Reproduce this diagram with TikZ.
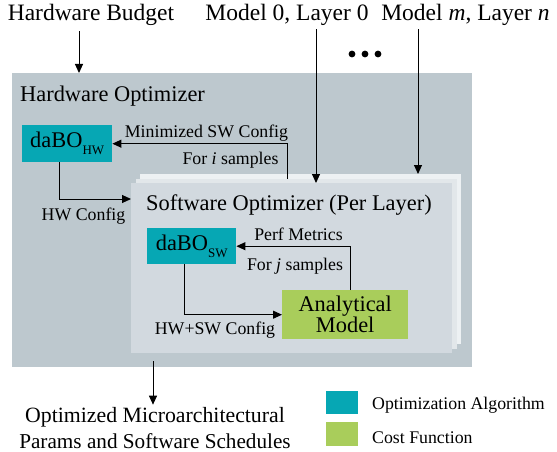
\documentclass[tikz,border=0pt]{standalone}
\usepackage{fontspec}
\setmainfont{Liberation Serif}
\usetikzlibrary{arrows.meta}
\definecolor{hwgray}{HTML}{BDC8CE}
\definecolor{swfront}{HTML}{D2D9DF}
\definecolor{swmid}{HTML}{E2E7EA}
\definecolor{swback}{HTML}{EDF1F3}
\definecolor{teal}{HTML}{06A7B4}
\definecolor{lgreen}{HTML}{A9CD5B}
\tikzset{
  top/.style={inner sep=0pt, font=\fontsize{23.5}{28}\selectfont, anchor=base},
  big/.style={inner sep=0pt, font=\fontsize{22.4}{26}\selectfont},
  lab/.style={inner sep=0pt, font=\fontsize{17.8}{21}\selectfont, anchor=base},
  leg/.style={inner sep=0pt, font=\fontsize{17.8}{20}\selectfont, anchor=base west},
  panel/.style={draw=none, inner sep=0pt, anchor=north west},
  algo/.style={panel, fill=teal, font=\fontsize{22.4}{26}\selectfont},
  cost/.style={panel, fill=lgreen, font=\fontsize{22.4}{24}\selectfont, align=center},
  arr/.style={draw=black, line width=1pt, -{Triangle[length=9pt,width=8pt]}},
}
\newcommand{\subtxt}[1]{\raisebox{-7pt}{\fontsize{13}{13}\selectfont #1}}
\begin{document}
\begin{tikzpicture}[x=1pt,y=-1pt]
\useasboundingbox (0,0) rectangle (557,452);
% top labels
\node[top] (hb) at (91,21) {Hardware Budget};
\node[top] (m0) at (287,21) {Model 0, Layer 0};
\node[top] (mn) at (465.5,21) {Model \textit{m}, Layer \textit{n}};
\foreach \i/\xx in {1/352,2/365,3/378} \fill (\xx,54) circle (3.4);
% hardware optimizer panel
\node[panel, fill=hwgray, minimum width=460pt, minimum height=294pt] (hwopt) at (12,73) {};
\node[big, anchor=base west] (hwtitle) at (20,101) {Hardware Optimizer};
% software optimizer stack
\node[panel, fill=swback, minimum width=321pt, minimum height=170pt] (sw3) at (140,174) {};
\node[panel, fill=swmid, minimum width=321pt, minimum height=170pt] (sw2) at (135.5,178.5) {};
\node[panel, fill=swfront, minimum width=321pt, minimum height=170pt] (sw1) at (131,183) {};
\node[big, anchor=base west] (swtitle) at (146,210) {Software Optimizer (Per Layer)};
% algorithm boxes
\node[algo, minimum width=90pt, minimum height=37pt] (dabohw) at (22,125) {daBO\subtxt{HW}};
\node[algo, minimum width=89pt, minimum height=36pt] (dabosw) at (147,228) {daBO\subtxt{SW}};
\node[cost, minimum width=126pt, minimum height=49pt] (am) at (282,290) {Analytical\\[-3pt]Model};
% arrows from top
\draw[arr] ([xshift=-12pt,yshift=-5pt]hb.south) -- ([xshift=-12pt]hb.south |- hwopt.north);
\draw[arr] ([xshift=29pt,yshift=-3pt]m0.south) -- ([xshift=29pt]m0.south |- sw1.north);
\draw[arr] ([xshift=-47.5pt,yshift=-3pt]mn.south) -- ([xshift=-47.5pt]mn.south |- sw3.north);
% HW loop
\draw[arr] ([xshift=-8pt]dabohw.south) |- ([yshift=-16pt]sw1.north west);
\node[lab] (hwcfg) at (83.5,220) {HW Config};
\draw[arr] ([xshift=156pt]sw1.north west |- sw2.north) |- (dabohw.east);
\node[lab] (minsw) at (206.5,137) {Minimized SW Config};
\node[lab] (fori) at (230.5,164) {For \textit{i} samples};
% SW loop
\draw[arr] ([xshift=5pt]am.north) |- (dabosw.east);
\node[lab] (perf) at (298.5,240) {Perf Metrics};
\node[lab] (forj) at (295,270) {For \textit{j} samples};
\draw[arr] ([xshift=-7.5pt]dabosw.south) |- (am.west);
\node[lab] (hwsw) at (215,334) {HW+SW Config};
% output
\node[inner sep=0pt, font=\fontsize{21.8}{26}\selectfont, anchor=base] (out1) at (155,422) {Optimized Microarchitectural};
\node[inner sep=0pt, font=\fontsize{21.2}{26}\selectfont, anchor=base] (out2) at (155,448) {Params and Software Schedules};
\draw[arr] ([yshift=6pt]hwopt.south -| 153,0) -- ([yshift=2pt]out1.north -| 153,0);
% legend
\node[panel, fill=teal, minimum width=32pt, minimum height=23pt] (lg1) at (326,391) {};
\node[leg] (lg1t) at (372,409) {Optimization Algorithm};
\node[panel, fill=lgreen, minimum width=32pt, minimum height=24pt] (lg2) at (326,422) {};
\node[leg] (lg2t) at (372,443) {Cost Function};
\end{tikzpicture}
\end{document}
